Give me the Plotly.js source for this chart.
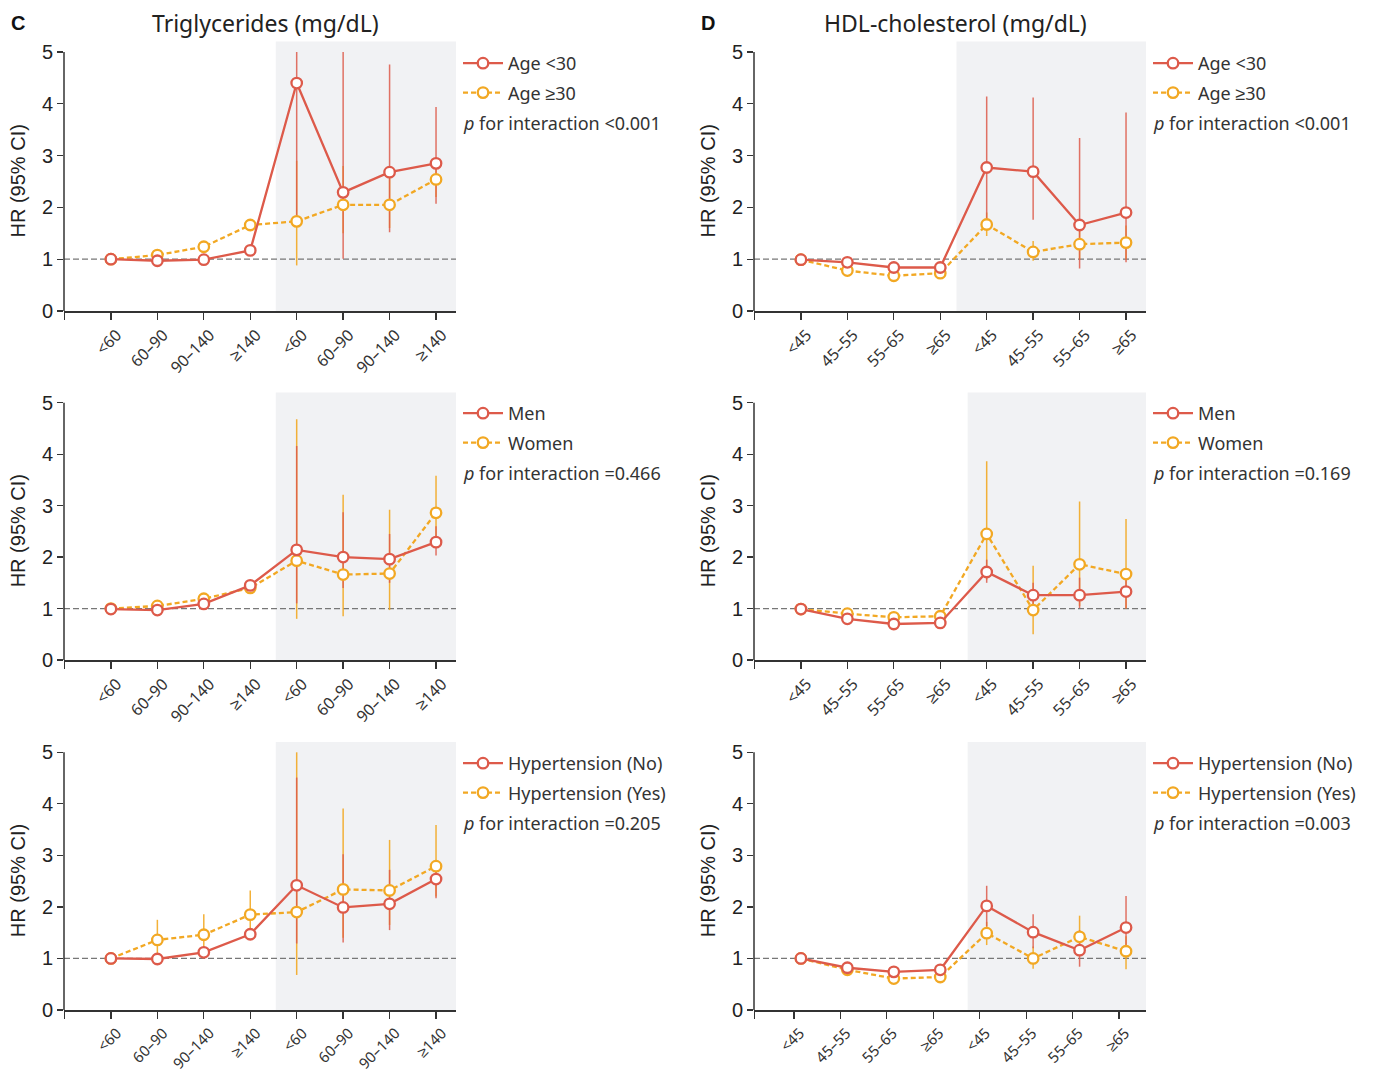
<!DOCTYPE html>
<html><head><meta charset="utf-8">
<script src="https://cdn.plot.ly/plotly-3.0.1.min.js"></script>
<style>html,body{margin:0;padding:0;background:#fff}#chart{width:1374px;height:1071px}</style>
</head><body><div id="chart"></div>
<script>
// ---------- tick labels ----------
const tgLabels  = ['&lt;60','60–90','90–140','≥140','&lt;60','60–90','90–140','≥140'];
const hdlLabels = ['&lt;45','45–55','55–65','≥65','&lt;45','45–55','55–65','≥65'];

// ---------- C, row 1: Triglycerides by age ----------
const tgAgeYoungHR = [1.00,0.97,0.99,1.17,4.40,2.29,2.68,2.85];
const tgAgeYoungLo = [null,null,null,null,1.75,1.01,1.52,2.07];
const tgAgeYoungHi = [null,null,null,null,5.00,5.00,4.76,3.94];
const tgAgeOldHR   = [1.00,1.08,1.24,1.66,1.73,2.05,2.05,2.54];
const tgAgeOldLo   = [null,null,null,null,0.88,1.50,1.60,2.20];
const tgAgeOldHi   = [null,null,null,null,2.90,2.80,2.60,2.90];

// ---------- D, row 1: HDL by age ----------
const hdlAgeYoungHR = [0.99,0.94,0.84,0.84,2.77,2.69,1.66,1.90];
const hdlAgeYoungLo = [null,null,null,null,1.75,1.76,0.82,0.94];
const hdlAgeYoungHi = [null,null,null,null,4.14,4.12,3.34,3.83];
const hdlAgeOldHR   = [0.99,0.78,0.68,0.73,1.67,1.14,1.29,1.32];
const hdlAgeOldLo   = [null,null,null,null,1.45,0.97,1.00,1.00];
const hdlAgeOldHi   = [null,null,null,null,1.90,1.35,1.60,1.65];

// ---------- C, row 2: Triglycerides by sex ----------
const tgMenHR   = [0.99,0.97,1.09,1.45,2.14,2.00,1.96,2.29];
const tgMenLo   = [null,null,null,null,1.10,1.40,1.50,2.03];
const tgMenHi   = [null,null,null,null,4.16,2.87,2.45,2.60];
const tgWomenHR = [1.00,1.05,1.19,1.40,1.93,1.66,1.68,2.86];
const tgWomenLo = [null,null,null,null,0.80,0.85,0.97,2.30];
const tgWomenHi = [null,null,null,null,4.68,3.21,2.92,3.58];

// ---------- D, row 2: HDL by sex ----------
const hdlMenHR   = [0.99,0.80,0.70,0.72,1.71,1.26,1.26,1.33];
const hdlMenLo   = [null,null,null,null,1.50,1.05,1.01,1.00];
const hdlMenHi   = [null,null,null,null,1.95,1.50,1.60,1.70];
const hdlWomenHR = [0.99,0.90,0.83,0.85,2.45,0.97,1.86,1.67];
const hdlWomenLo = [null,null,null,null,1.56,0.50,1.05,1.00];
const hdlWomenHi = [null,null,null,null,3.86,1.83,3.08,2.74];

// ---------- C, row 3: Triglycerides by hypertension ----------
const tgHtnNoHR  = [1.00,0.99,1.12,1.47,2.42,1.99,2.06,2.54];
const tgHtnNoLo  = [null,null,null,null,1.29,1.31,1.55,2.17];
const tgHtnNoHi  = [null,null,null,null,4.51,3.02,2.72,2.90];
const tgHtnYesHR = [1.00,1.36,1.46,1.85,1.90,2.34,2.32,2.79];
const tgHtnYesLo = [null,1.05,1.15,1.45,0.68,1.40,1.65,2.20];
const tgHtnYesHi = [null,1.75,1.86,2.32,5.00,3.91,3.30,3.59];

// ---------- D, row 3: HDL by hypertension ----------
const hdlHtnNoHR  = [1.00,0.82,0.74,0.78,2.02,1.51,1.16,1.60];
const hdlHtnNoLo  = [null,null,null,null,1.62,1.20,0.84,1.16];
const hdlHtnNoHi  = [null,null,null,null,2.41,1.86,1.55,2.21];
const hdlHtnYesHR = [1.00,0.78,0.61,0.64,1.49,1.00,1.42,1.14];
const hdlHtnYesLo = [null,null,null,null,1.26,0.80,1.04,0.79];
const hdlHtnYesHi = [null,null,null,null,1.71,1.23,1.83,1.43];

// ---------- series names & p values ----------
const ageNames = ['Age &lt;30','Age ≥30'];
const sexNames = ['Men','Women'];
const htnNames = ['Hypertension (No)','Hypertension (Yes)'];
const pTgAge = '&lt;0.001', pHdlAge = '&lt;0.001';
const pTgSex = '=0.466',   pHdlSex = '=0.169';
const pTgHtn = '=0.205',   pHdlHtn = '=0.003';

// panels in row-major order (C1, D1, C2, D2, C3, D3)
const panels = [
  {labels:tgLabels,  p:pTgAge,  a:{name:ageNames[0],hr:tgAgeYoungHR,lo:tgAgeYoungLo,hi:tgAgeYoungHi},   b:{name:ageNames[1],hr:tgAgeOldHR,lo:tgAgeOldLo,hi:tgAgeOldHi}},
  {labels:hdlLabels, p:pHdlAge, a:{name:ageNames[0],hr:hdlAgeYoungHR,lo:hdlAgeYoungLo,hi:hdlAgeYoungHi},b:{name:ageNames[1],hr:hdlAgeOldHR,lo:hdlAgeOldLo,hi:hdlAgeOldHi}},
  {labels:tgLabels,  p:pTgSex,  a:{name:sexNames[0],hr:tgMenHR,lo:tgMenLo,hi:tgMenHi},   b:{name:sexNames[1],hr:tgWomenHR,lo:tgWomenLo,hi:tgWomenHi}},
  {labels:hdlLabels, p:pHdlSex, a:{name:sexNames[0],hr:hdlMenHR,lo:hdlMenLo,hi:hdlMenHi},b:{name:sexNames[1],hr:hdlWomenHR,lo:hdlWomenLo,hi:hdlWomenHi}},
  {labels:tgLabels,  p:pTgHtn,  a:{name:htnNames[0],hr:tgHtnNoHR,lo:tgHtnNoLo,hi:tgHtnNoHi},   b:{name:htnNames[1],hr:tgHtnYesHR,lo:tgHtnYesLo,hi:tgHtnYesHi}},
  {labels:hdlLabels, p:pHdlHtn, a:{name:htnNames[0],hr:hdlHtnNoHR,lo:hdlHtnNoLo,hi:hdlHtnNoHi},b:{name:htnNames[1],hr:hdlHtnYesHR,lo:hdlHtnYesLo,hi:hdlHtnYesHi}}
];

// ---------- layout / style settings ----------
const W = 1374, H = 1071;
const RED = '#DD5A4A', ORANGE = '#F2A823';
const shadeStart = [3.55, 3.35, 3.55, 3.59, 3.55, 3.59];
const tickShift  = [0, 0, 0, 0, 0, -0.15];
const xRange = [-1.01, 7.43];
const colDom = [[64/W, 456/W], [754/W, 1146/W]];
const rowDom = [[1-311/H, 1-41.6/H], [1-660/H, 1-392.4/H], [1-1010/H, 1-742/H]];
const legTopPx = [45, 395, 745];
const pLinePx = [123, 473, 823];
const legX = [458/W, 1148/W];
const pX = [461/W, 1151/W];
const yTitleX = [18/W, 708/W];
const tickFontSize = [16, 16, 16, 16, 15, 15];

const data = [], shapes = [], annotations = [];
const layout = {
  width: W, height: H, margin: {l:0, r:0, t:0, b:0},
  paper_bgcolor: '#fff', plot_bgcolor: 'rgba(0,0,0,0)',
  font: {family: 'Liberation Sans, Arial, sans-serif', color: '#222'},
  showlegend: true, hovermode: false
};

panels.forEach((p, i) => {
  const k = i + 1, sfx = k === 1 ? '' : String(k);
  const xa = 'x' + sfx, ya = 'y' + sfx, leg = 'legend' + sfx;
  const col = i % 2, row = Math.floor(i / 2);
  const idx = p.labels.map((_, j) => j);
  const series = [
    {s: p.b, color: ORANGE, dash: '5px,3px', bar: 'rgba(242,168,35,0.9)', rank: 2},
    {s: p.a, color: RED, dash: 'solid', bar: 'rgba(221,90,74,0.85)', rank: 1}
  ];
  // confidence intervals (drawn first, below the lines and circles)
  series.forEach(o => {
    const plus  = o.s.hr.map((v, j) => o.s.hi[j] == null ? 0 : o.s.hi[j] - v);
    const minus = o.s.hr.map((v, j) => o.s.lo[j] == null ? 0 : v - o.s.lo[j]);
    data.push({
      type: 'scatter', mode: 'markers', x: idx, y: o.s.hr, xaxis: xa, yaxis: ya,
      showlegend: false, hoverinfo: 'skip', marker: {size: 2, opacity: 0},
      error_y: {type: 'data', symmetric: false, array: plus, arrayminus: minus,
                color: o.bar, thickness: 1.5, width: 0}
    });
  });
  series.forEach((o, n) => {
    data.push({
      type: 'scatter', mode: 'lines+markers', name: o.s.name, x: idx, y: o.s.hr,
      xaxis: xa, yaxis: ya, legend: leg, legendgroup: leg + '_' + n, legendrank: o.rank,
      line: {color: o.color, width: 2.3, dash: o.dash},
      marker: {symbol: 'circle', size: 10.5, color: '#fff', line: {color: o.color, width: 2.3}}
    });
  });

  layout['xaxis' + sfx] = {
    domain: colDom[col], range: xRange, anchor: ya, fixedrange: true,
    tickmode: 'array', tickvals: [-1].concat(idx.map(j => j + tickShift[i])),
    ticktext: [''].concat(p.labels), tickangle: -45, ticklabelshift: 6,
    ticks: 'outside', ticklen: 7, tickwidth: 1.3, tickcolor: '#333',
    showline: true, linecolor: '#333', linewidth: 1.5,
    showgrid: false, zeroline: false,
    tickfont: {family: 'Noto Sans, sans-serif', size: tickFontSize[i], color: '#333'}
  };
  layout['yaxis' + sfx] = {
    domain: rowDom[row], range: [0, 5.2], anchor: xa, fixedrange: true,
    tickmode: 'array', tickvals: [0,1,2,3,4,5],
    ticks: 'outside', ticklen: 6, tickwidth: 1.3, tickcolor: '#333',
    showline: false, showgrid: false, zeroline: false,
    tickfont: {family: 'Liberation Sans, Arial, sans-serif', size: 20, color: '#222'}
  };
  shapes.push({type: 'rect', layer: 'below', xref: xa, x0: shadeStart[i], x1: xRange[1],
               yref: ya + ' domain', y0: 0, y1: 1, fillcolor: '#F1F2F4', line: {width: 0}});
  shapes.push({type: 'line', layer: 'below', xref: xa + ' domain', x0: 0, x1: 1,
               yref: ya, y0: 1, y1: 1, line: {color: '#777', width: 1.3, dash: '6px,3px'}});
  shapes.push({type: 'line', xref: xa + ' domain', x0: 0, x1: 0, yref: ya, y0: 0, y1: 5,
               line: {color: '#333', width: 1.5}});

  layout[leg] = {
    x: legX[col], xanchor: 'left', y: 1 - legTopPx[row] / H, yanchor: 'top',
    bgcolor: 'rgba(0,0,0,0)', borderwidth: 0, traceorder: 'grouped', itemwidth: 40,
    tracegroupgap: 3, font: {family: 'Noto Sans, sans-serif', size: 18, color: '#333'}
  };
  annotations.push({xref: 'paper', yref: 'paper', x: pX[col], y: 1 - pLinePx[row] / H,
    xanchor: 'left', yanchor: 'middle', showarrow: false,
    text: '<i>p</i> for interaction ' + p.p,
    font: {family: 'Noto Sans, sans-serif', size: 18, color: '#333'}});
  annotations.push({xref: 'paper', yref: ya, x: yTitleX[col], y: 2.5, textangle: -90,
    xanchor: 'center', yanchor: 'middle', showarrow: false, text: 'HR (95% CI)',
    font: {family: 'Liberation Sans, Arial, sans-serif', size: 20, color: '#222'}});
});

annotations.push({xref:'paper', yref:'paper', x:18/W, y:1-23/H, xanchor:'center', yanchor:'middle', showarrow:false,
  text:'<b>C</b>', font:{family:'Liberation Sans, Arial, sans-serif', size:20, color:'#111'}});
annotations.push({xref:'paper', yref:'paper', x:708/W, y:1-23/H, xanchor:'center', yanchor:'middle', showarrow:false,
  text:'<b>D</b>', font:{family:'Liberation Sans, Arial, sans-serif', size:20, color:'#111'}});
annotations.push({xref:'paper', yref:'paper', x:265/W, y:1-23/H, xanchor:'center', yanchor:'middle', showarrow:false,
  text:'Triglycerides (mg/dL)', font:{family:'Noto Sans, sans-serif', size:23, color:'#222'}});
annotations.push({xref:'paper', yref:'paper', x:955/W, y:1-23/H, xanchor:'center', yanchor:'middle', showarrow:false,
  text:'HDL-cholesterol (mg/dL)', font:{family:'Noto Sans, sans-serif', size:23, color:'#222'}});

layout.shapes = shapes;
layout.annotations = annotations;

Plotly.newPlot('chart', data, layout, {displayModeBar: false, staticPlot: true});
</script>
</body></html>
